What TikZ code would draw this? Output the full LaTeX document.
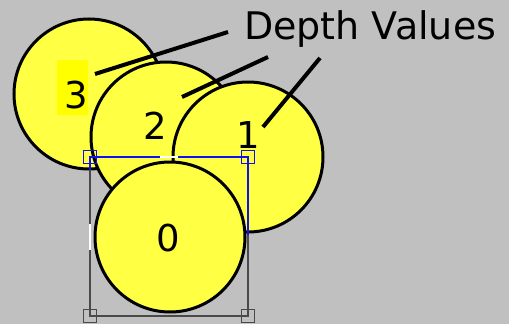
\documentclass[tikz,border=0pt]{standalone}
\usepackage{fontspec}
\setmainfont{DejaVu Sans}
\definecolor{bg}{HTML}{C0C0C0}
\definecolor{cfill}{HTML}{FFFF44}
\definecolor{hilite}{HTML}{FFFF00}
\definecolor{xgray}{HTML}{4A4A4A}
\definecolor{xblue}{HTML}{1010F0}
\begin{document}
\begin{tikzpicture}[x=1pt,y=-1pt,
  disc/.style={circle,draw=black,line width=3pt,fill=cfill,minimum size=150pt,inner sep=0pt},
  digit/.style={inner sep=0pt,font=\fontsize{37}{37}\selectfont},
  callout/.style={draw=black,line width=4pt},
  handle/.style={draw,line width=1.3pt,minimum size=13pt,inner sep=0pt,fill=none},
  frame/.style={line width=1.3pt}]
\fill[bg] (0,0) rectangle (509,324);
\useasboundingbox (0,0) rectangle (509,324);
% circles, back to front
\node[disc] (c3) at (89,94) {};
\fill[hilite] (57,60) rectangle (88,115);
\node[disc] (c2) at (166,137) {};
\node[disc] (c1) at (248,157) {};
\node[disc] (c0) at (170,237) {};
% labels
\node[digit] (l3) at (76,95) {3};
\node[digit] (l2) at (155,126) {2};
\node[digit] (l1) at (248,135) {1};
\node[digit] (l0) at (168,238) {0};
% selection frame
\coordinate (f1) at (90,157);
\coordinate (f2) at (248,157);
\coordinate (f3) at (248,316);
\coordinate (f4) at (90,316);
\coordinate (fm) at (248,235);
\coordinate (fl) at (90,170);
\draw[frame,xgray] (fm) -- (f3) -- (f4) -- (fl);
\draw[frame,xblue] (fl) -- (f1) -- (f2) -- (fm);
\draw[frame,white] (160,157) -- (178,157);
\draw[frame,white] (90,224) -- (90,250);
\node[handle,draw=xblue] (h1) at (f1) {};
\node[handle,draw=xblue] (h2) at (f2) {};
\node[handle,draw=xgray] (h3) at (f3) {};
\node[handle,draw=xgray] (h4) at (f4) {};
% title and callouts
\node[anchor=base west,inner sep=0pt,font=\fontsize{38}{38}\selectfont] (title) at (244,39) {Depth Values};
\coordinate (a3) at (95,74);
\coordinate (b3) at (228,32);
\coordinate (a2) at (182,97);
\coordinate (b2) at (268,57);
\coordinate (a1) at (263,127);
\coordinate (b1) at (320,58);
\draw[callout] (a3) -- (b3);
\draw[callout] (a2) -- (b2);
\draw[callout] (a1) -- (b1);
\end{tikzpicture}
\end{document}
